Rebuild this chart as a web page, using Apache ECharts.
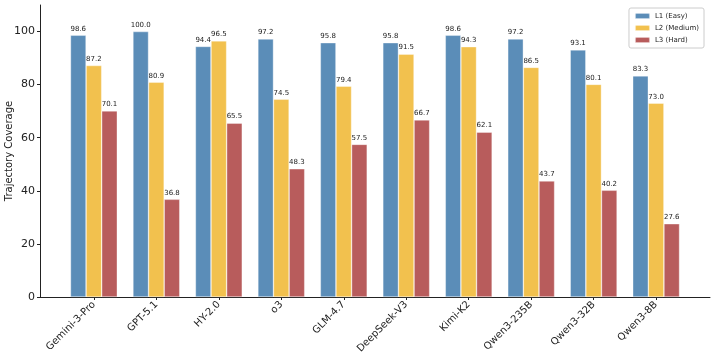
<!DOCTYPE html>
<html>
<head>
<meta charset="utf-8">
<script src="https://cdn.jsdelivr.net/npm/echarts@6/dist/echarts.min.js"></script>
<style>
html, body { margin: 0; padding: 0; background: #fff; }
#chart { width: 713px; height: 354px; }
</style>
</head>
<body>
<div id="chart"></div>
<script>
var models = ['Gemini-3-Pro', 'GPT-5.1', 'HY-2.0', 'o3', 'GLM-4.7', 'DeepSeek-V3', 'Kimi-K2', 'Qwen3-235B', 'Qwen3-32B', 'Qwen3-8B'];
var easy = [98.6, 100.0, 94.4, 97.2, 95.8, 95.8, 98.6, 97.2, 93.1, 83.3];
var medium = [87.2, 80.9, 96.5, 74.5, 79.4, 91.5, 94.3, 86.5, 80.1, 73.0];
var hard = [70.1, 36.8, 65.5, 48.3, 57.5, 66.7, 62.1, 43.7, 40.2, 27.6];
var yTicks = [0, 20, 40, 60, 80, 100];

var chart = echarts.init(document.getElementById('chart'));

// bars are placed at index +/- offset on a numeric x axis (like matplotlib)
function toPoints(vals, offset) {
    return vals.map(function (v, i) { return [i + offset, v]; });
}

function barSeries(name, vals, offset, color) {
    return {
        name: name,
        type: 'bar',
        data: toPoints(vals, offset),
        barWidth: 15.6,
        barGap: '-100%',
        itemStyle: { color: color, borderColor: 'rgba(255,255,255,0.6)', borderWidth: 0.6 },
        label: {
            show: true,
            position: 'top',
            distance: 3,
            fontSize: 7,
            color: '#222',
            fontFamily: 'DejaVu Sans',
            formatter: function (p) { return p.value[1].toFixed(1); }
        }
    };
}

var option = {
    animation: false,
    textStyle: { fontFamily: 'DejaVu Sans' },
    grid: { left: 40, right: 3, top: 5, bottom: 57, outerBoundsMode: 'none' },
    legend: {
        right: 9,
        top: 8,
        orient: 'vertical',
        itemWidth: 15,
        itemHeight: 6,
        itemGap: 4,
        padding: [4, 5, 4, 5],
        borderColor: '#ccc',
        borderWidth: 1,
        borderRadius: 2,
        textStyle: { fontSize: 7, color: '#222' },
        data: ['L1 (Easy)', 'L2 (Medium)', 'L3 (Hard)']
    },
    xAxis: {
        type: 'value',
        min: -0.8625,
        max: 9.8625,
        splitLine: { show: false },
        axisLine: { show: true, onZero: false, lineStyle: { color: '#222', width: 1 } },
        axisTick: { show: true, customValues: models.map(function (m, i) { return i; }), length: 3, lineStyle: { color: '#222' } },
        axisLabel: {
            customValues: models.map(function (m, i) { return i; }),
            rotate: 45,
            fontSize: 10,
            color: '#222',
            margin: 6,
            formatter: function (v) { return models[Math.round(v)]; }
        }
    },
    yAxis: {
        type: 'value',
        min: 0,
        max: 110,
        name: 'Trajectory Coverage',
        nameLocation: 'middle',
        nameGap: 26,
        nameMoveOverlap: false,
        nameTextStyle: { fontSize: 10, color: '#222' },
        splitLine: { show: false },
        axisLine: { show: true, onZero: false, lineStyle: { color: '#222', width: 1 } },
        axisTick: { show: true, customValues: yTicks, length: 3, lineStyle: { color: '#222' } },
        axisLabel: { customValues: yTicks, fontSize: 11, color: '#222', margin: 5 }
    },
    series: [
        barSeries('L1 (Easy)', easy, -0.25, '#5b8db8'),
        barSeries('L2 (Medium)', medium, 0, '#f2c14e'),
        barSeries('L3 (Hard)', hard, 0.25, '#b85c5c')
    ]
};

chart.setOption(option);
</script>
</body>
</html>
